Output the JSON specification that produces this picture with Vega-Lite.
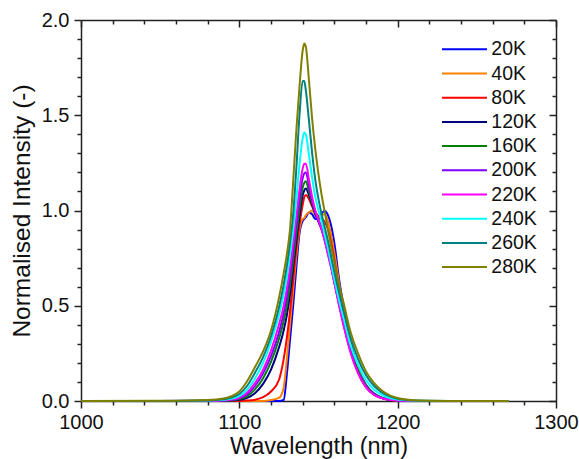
{
  "$schema": "https://vega.github.io/schema/vega-lite/v6.json",
  "autosize": {"type": "none"},
  "padding": {"left": 81, "top": 20, "right": 23, "bottom": 58},
  "width": 475,
  "height": 381,
  "background": "white",
  "config": {
    "view": {"stroke": null},
    "font": "Liberation Sans",
    "axis": {"grid": false, "labelFlush": false, "domainColor": "#222", "tickColor": "#222", "domainWidth": 1.5, "tickWidth": 1.5, "labelColor": "#111", "titleColor": "#111", "labelFont": "Liberation Sans", "titleFont": "Liberation Sans", "titleFontWeight": "normal"}
  },
  "data": {
    "values": [
      {"w":1000,"20K":0,"40K":0,"80K":0,"120K":0,"160K":0,"200K":0,"220K":0,"240K":0,"260K":0,"280K":0},
      {"w":1050,"20K":0,"40K":0,"80K":0,"120K":0,"160K":0,"200K":0,"220K":0,"240K":0,"260K":0,"280K":0.001},
      {"w":1080,"20K":0,"40K":0,"80K":0,"120K":0,"160K":0,"200K":0.001,"220K":0.001,"240K":0.002,"260K":0.003,"280K":0.005},
      {"w":1090,"20K":0,"40K":0,"80K":0,"120K":0.001,"160K":0.002,"200K":0.003,"220K":0.004,"240K":0.006,"260K":0.009,"280K":0.013},
      {"w":1095,"20K":0,"40K":0,"80K":0,"120K":0.002,"160K":0.004,"200K":0.006,"220K":0.008,"240K":0.012,"260K":0.018,"280K":0.025},
      {"w":1100,"20K":0,"40K":0,"80K":0,"120K":0.006,"160K":0.01,"200K":0.014,"220K":0.018,"240K":0.026,"260K":0.037,"280K":0.05},
      {"w":1105,"20K":0,"40K":0,"80K":0.002,"120K":0.016,"160K":0.026,"200K":0.036,"220K":0.045,"240K":0.06,"260K":0.08,"280K":0.105},
      {"w":1110,"20K":0,"40K":0,"80K":0.007,"120K":0.042,"160K":0.062,"200K":0.08,"220K":0.095,"240K":0.12,"260K":0.15,"280K":0.18},
      {"w":1115,"20K":0,"40K":0,"80K":0.02,"120K":0.09,"160K":0.12,"200K":0.145,"220K":0.165,"240K":0.2,"260K":0.23,"280K":0.26},
      {"w":1120,"20K":0,"40K":0.005,"80K":0.05,"120K":0.165,"160K":0.205,"200K":0.235,"220K":0.265,"240K":0.31,"260K":0.34,"280K":0.37},
      {"w":1125,"20K":0,"40K":0.016,"80K":0.11,"120K":0.28,"160K":0.325,"200K":0.36,"220K":0.4,"240K":0.45,"260K":0.49,"280K":0.54},
      {"w":1128,"20K":0.005,"40K":0.07,"80K":0.22,"120K":0.37,"160K":0.42,"200K":0.46,"220K":0.5,"240K":0.56,"260K":0.61,"280K":0.67},
      {"w":1130,"20K":0.14,"40K":0.22,"80K":0.33,"120K":0.45,"160K":0.5,"200K":0.55,"220K":0.59,"240K":0.65,"260K":0.71,"280K":0.77},
      {"w":1132,"20K":0.32,"40K":0.4,"80K":0.47,"120K":0.56,"160K":0.61,"200K":0.66,"220K":0.7,"240K":0.77,"260K":0.83,"280K":0.9},
      {"w":1134,"20K":0.5,"40K":0.58,"80K":0.64,"120K":0.7,"160K":0.74,"200K":0.79,"220K":0.83,"240K":0.9,"260K":0.98,"280K":1.15},
      {"w":1136,"20K":0.7,"40K":0.76,"80K":0.8,"120K":0.84,"160K":0.88,"200K":0.93,"220K":0.97,"240K":1.06,"260K":1.22,"280K":1.42},
      {"w":1138,"20K":0.88,"40K":0.9,"80K":0.93,"120K":0.97,"160K":1.01,"200K":1.06,"220K":1.11,"240K":1.24,"260K":1.5,"280K":1.65},
      {"w":1140,"20K":0.945,"40K":0.955,"80K":1.03,"120K":1.08,"160K":1.12,"200K":1.17,"220K":1.22,"240K":1.38,"260K":1.68,"280K":1.84},
      {"w":1141,"20K":0.955,"40K":0.96,"80K":1.07,"120K":1.105,"160K":1.145,"200K":1.195,"220K":1.245,"240K":1.41,"260K":1.68,"280K":1.877},
      {"w":1142,"20K":0.965,"40K":0.975,"80K":1.082,"120K":1.115,"160K":1.154,"200K":1.2,"220K":1.245,"240K":1.4,"260K":1.63,"280K":1.86},
      {"w":1144,"20K":0.99,"40K":0.99,"80K":1.06,"120K":1.08,"160K":1.1,"200K":1.13,"220K":1.16,"240K":1.29,"260K":1.47,"280K":1.68},
      {"w":1146,"20K":0.98,"40K":1.0,"80K":1.02,"120K":1.03,"160K":1.04,"200K":1.05,"220K":1.07,"240K":1.17,"260K":1.3,"280K":1.48},
      {"w":1148,"20K":0.955,"40K":0.975,"80K":0.99,"120K":0.98,"160K":0.99,"200K":0.99,"220K":1.0,"240K":1.07,"260K":1.16,"280K":1.32},
      {"w":1150,"20K":0.955,"40K":0.965,"80K":0.97,"120K":0.94,"160K":0.95,"200K":0.945,"220K":0.95,"240K":1.0,"260K":1.06,"280K":1.19},
      {"w":1152,"20K":0.985,"40K":0.975,"80K":0.955,"120K":0.9,"160K":0.91,"200K":0.9,"220K":0.9,"240K":0.94,"260K":0.98,"280K":1.08},
      {"w":1154,"20K":0.998,"40K":0.98,"80K":0.94,"120K":0.85,"160K":0.86,"200K":0.84,"220K":0.84,"240K":0.87,"260K":0.91,"280K":0.99},
      {"w":1156,"20K":0.975,"40K":0.945,"80K":0.9,"120K":0.78,"160K":0.79,"200K":0.77,"220K":0.77,"240K":0.8,"260K":0.84,"280K":0.9},
      {"w":1158,"20K":0.92,"40K":0.87,"80K":0.83,"120K":0.71,"160K":0.72,"200K":0.7,"220K":0.7,"240K":0.72,"260K":0.76,"280K":0.81},
      {"w":1160,"20K":0.83,"40K":0.78,"80K":0.74,"120K":0.63,"160K":0.64,"200K":0.62,"220K":0.62,"240K":0.64,"260K":0.68,"280K":0.73},
      {"w":1163,"20K":0.64,"40K":0.62,"80K":0.59,"120K":0.51,"160K":0.52,"200K":0.51,"220K":0.5,"240K":0.53,"260K":0.57,"280K":0.61},
      {"w":1166,"20K":0.49,"40K":0.47,"80K":0.45,"120K":0.4,"160K":0.41,"200K":0.4,"220K":0.39,"240K":0.43,"260K":0.47,"280K":0.51},
      {"w":1170,"20K":0.32,"40K":0.31,"80K":0.29,"120K":0.27,"160K":0.28,"200K":0.27,"220K":0.26,"240K":0.3,"260K":0.34,"280K":0.37},
      {"w":1175,"20K":0.17,"40K":0.165,"80K":0.15,"120K":0.15,"160K":0.16,"200K":0.15,"220K":0.145,"240K":0.19,"260K":0.22,"280K":0.25},
      {"w":1180,"20K":0.085,"40K":0.08,"80K":0.072,"120K":0.075,"160K":0.08,"200K":0.075,"220K":0.072,"240K":0.11,"260K":0.135,"280K":0.155},
      {"w":1185,"20K":0.04,"40K":0.037,"80K":0.033,"120K":0.035,"160K":0.038,"200K":0.035,"220K":0.033,"240K":0.06,"260K":0.08,"280K":0.095},
      {"w":1190,"20K":0.018,"40K":0.017,"80K":0.015,"120K":0.016,"160K":0.017,"200K":0.016,"220K":0.015,"240K":0.032,"260K":0.045,"280K":0.055},
      {"w":1195,"20K":0.008,"40K":0.007,"80K":0.006,"120K":0.007,"160K":0.007,"200K":0.007,"220K":0.006,"240K":0.016,"260K":0.024,"280K":0.03},
      {"w":1200,"20K":0.003,"40K":0.003,"80K":0.002,"120K":0.003,"160K":0.003,"200K":0.003,"220K":0.002,"240K":0.008,"260K":0.012,"280K":0.016},
      {"w":1210,"20K":0,"40K":0,"80K":0,"120K":0,"160K":0,"200K":0,"220K":0,"240K":0.002,"260K":0.003,"280K":0.004},
      {"w":1220,"20K":0,"40K":0,"80K":0,"120K":0,"160K":0,"200K":0,"220K":0,"240K":0,"260K":0.001,"280K":0.001},
      {"w":1240,"20K":0,"40K":0,"80K":0,"120K":0,"160K":0,"200K":0,"220K":0,"240K":0,"260K":0,"280K":0},
      {"w":1270,"20K":0,"40K":0,"80K":0,"120K":0,"160K":0,"200K":0,"220K":0,"240K":0,"260K":0,"280K":0}
    ]
  },
  "transform": [
    {"fold": ["20K","40K","80K","120K","160K","200K","220K","240K","260K","280K"], "as": ["T","v"]}
  ],
  "resolve": {"axis": {"x": "independent", "y": "independent"}},
  "layer": [
    {
      "mark": {"type": "line", "strokeWidth": 2, "interpolate": "monotone"},
      "encoding": {
        "x": {"field": "w", "type": "quantitative",
          "scale": {"domain": [1000, 1300], "nice": false, "zero": false},
          "axis": {"orient": "bottom", "values": [1000, 1100, 1200, 1300], "format": "d", "tickSize": 7, "labelFontSize": 20, "labelPadding": 4, "title": "Wavelength (nm)", "titleFontSize": 23.5, "titleBaseline": "alphabetic", "titleY": 52}},
        "y": {"field": "v", "type": "quantitative",
          "scale": {"domain": [0, 2], "nice": false},
          "axis": {"orient": "left", "values": [0, 0.5, 1, 1.5, 2], "format": ".1f", "tickSize": 7, "labelFontSize": 20, "labelPadding": 5, "title": "Normalised Intensity (-)", "titleFontSize": 24.5, "titleBaseline": "alphabetic", "titleX": -52, "titleAngle": -90}},
        "color": {"field": "T", "type": "nominal",
          "scale": {"domain": ["20K","40K","80K","120K","160K","200K","220K","240K","260K","280K"],
                    "range": ["#0000ff","#ff8000","#ff0000","#000080","#008000","#8000ff","#ff00ff","#00ffff","#008080","#808000"]},
          "legend": {"orient": "none", "legendX": 371, "legendY": 16.8, "title": null, "padding": 0, "symbolType": "M-2,0H2", "symbolSize": 506, "symbolStrokeWidth": 2, "labelFontSize": 19.5, "labelFont": "Liberation Sans", "labelColor": "#111", "labelOffset": 14.3, "rowPadding": 2.2}}
      }
    },
    {
      "mark": {"type": "point", "opacity": 0},
      "encoding": {
        "x": {"field": "w", "type": "quantitative", "axis": {"orient": "bottom", "values": [1020,1040,1060,1080,1120,1140,1160,1180,1220,1240,1260,1280], "tickSize": 4, "labels": false, "domain": false, "title": null}},
        "y": {"field": "v", "type": "quantitative", "axis": {"orient": "left", "values": [0.1,0.2,0.3,0.4,0.6,0.7,0.8,0.9,1.1,1.2,1.3,1.4,1.6,1.7,1.8,1.9], "tickSize": 4, "labels": false, "domain": false, "title": null}}
      }
    },
    {
      "mark": {"type": "point", "opacity": 0},
      "encoding": {
        "x": {"field": "w", "type": "quantitative", "axis": {"orient": "top", "values": [1000, 1100, 1200, 1300], "tickSize": -7, "labels": false, "title": null}},
        "y": {"field": "v", "type": "quantitative", "axis": {"orient": "right", "values": [0, 0.5, 1, 1.5, 2], "tickSize": -7, "labels": false, "title": null}}
      }
    },
    {
      "mark": {"type": "point", "opacity": 0},
      "encoding": {
        "x": {"field": "w", "type": "quantitative", "axis": {"orient": "top", "values": [1020,1040,1060,1080,1120,1140,1160,1180,1220,1240,1260,1280], "tickSize": -4, "labels": false, "domain": false, "title": null}},
        "y": {"field": "v", "type": "quantitative", "axis": {"orient": "right", "values": [0.1,0.2,0.3,0.4,0.6,0.7,0.8,0.9,1.1,1.2,1.3,1.4,1.6,1.7,1.8,1.9], "tickSize": -4, "labels": false, "domain": false, "title": null}}
      }
    }
  ]
}
